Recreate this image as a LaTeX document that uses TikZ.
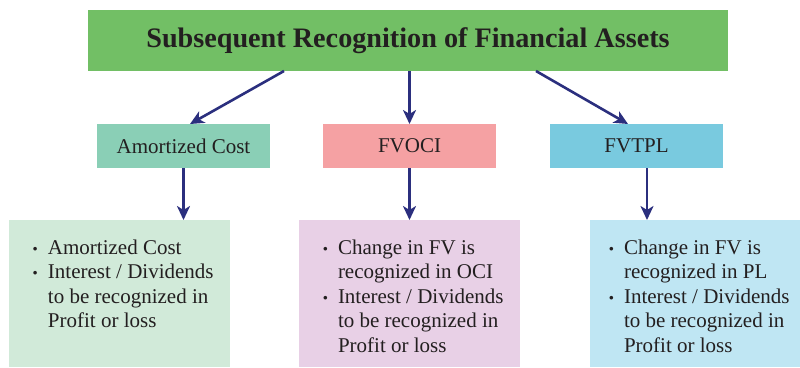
\documentclass[tikz,border=0pt]{standalone}
\usepackage{fontspec}
\setmainfont{Liberation Serif}
\usepackage{graphicx}
\usetikzlibrary{arrows.meta}
\definecolor{titlegreen}{HTML}{72BF65}
\definecolor{acgreen}{HTML}{8ACFB6}
\definecolor{ocipink}{HTML}{F5A1A3}
\definecolor{plblue}{HTML}{79CADF}
\definecolor{lgreen}{HTML}{D1EAD9}
\definecolor{lpink}{HTML}{E8D0E6}
\definecolor{lblue}{HTML}{BFE6F3}
\definecolor{txt}{HTML}{231F20}
\definecolor{navy}{HTML}{2B2F7E}
\newcommand\bmark{\makebox[15pt][l]{\raisebox{3pt}{\scalebox{0.45}{$\bullet$}}}}
\newcommand\bfirst{\hangindent=15pt\hangafter=1\noindent\rule{0pt}{34pt}\bmark}
\newcommand\bitem{\par\hangindent=15pt\hangafter=1\noindent\bmark}
\newcommand\blist[3]{\parbox[c][147pt][t]{#1}{\fontsize{21}{24.5}\selectfont\leftskip=#2\parindent=0pt#3\par}}
\begin{document}
\begin{tikzpicture}[x=1pt,y=-1pt,
  every node/.style={inner sep=0pt,outer sep=0pt,text=txt},
  catbox/.style={rectangle,minimum width=173pt,minimum height=44pt,font=\fontsize{21}{24}\selectfont},
  listbox/.style={rectangle,minimum height=147pt,anchor=north west},
  arr/.style={draw=navy,line width=2.6pt,-{Stealth[length=14pt,width=13pt,inset=4pt]}}]
\useasboundingbox (0,0) rectangle (800,367);
\node[fill=titlegreen,minimum width=640pt,minimum height=61pt,font=\fontsize{28.2}{31}\selectfont\bfseries] (title) at (408,40.5) {Subsequent Recognition of Financial Assets};
\node[catbox,fill=acgreen] (ac) at (183.5,146) {Amortized Cost};
\node[catbox,fill=ocipink] (oci) at (409.5,146) {FVOCI};
\node[catbox,fill=plblue] (pl) at (636.5,146) {FVTPL};
\node[listbox,fill=lgreen,minimum width=221pt] (b1) at (9,220) {\blist{221pt}{24pt}{\bfirst Amortized Cost\bitem Interest / Dividends\\to be recognized in\\Profit or loss}};
\node[listbox,fill=lpink,minimum width=221pt] (b2) at (299,220) {\blist{221pt}{24pt}{\bfirst Change in FV is\\recognized in OCI\bitem Interest / Dividends\\to be recognized in\\Profit or loss}};
\node[listbox,fill=lblue,minimum width=210pt] (b3) at (590,220) {\blist{210pt}{19pt}{\bfirst Change in FV is\\recognized in PL\bitem Interest / Dividends\\to be recognized in\\Profit or loss}};
\draw[arr] ([xshift=-124pt]title.south) -- ([xshift=6.5pt]ac.north);
\draw[arr] (title.south -| oci.north) -- (oci.north);
\draw[arr] ([xshift=128pt]title.south) -- ([xshift=-8.5pt]pl.north);
\draw[arr] (ac.south) -- (ac.south |- b1.north);
\draw[arr] (oci.south) -- (oci.south |- b2.north);
\coordinate (plout) at ([xshift=10.5pt]pl.south);
\draw[arr] (plout) -- (plout |- b3.north);
\end{tikzpicture}
\end{document}
